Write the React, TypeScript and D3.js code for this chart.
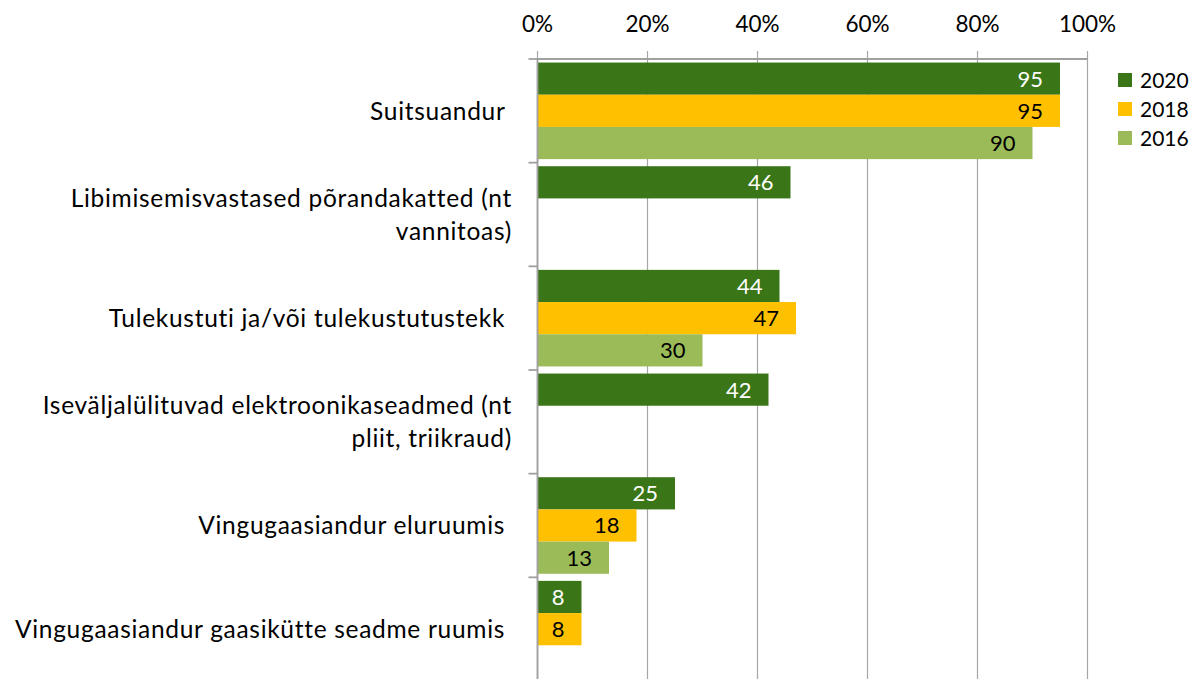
import React from 'react';
import * as d3 from 'd3';

// chart data
const categories = [
  'Suitsuandur',
  'Libimisemisvastased põrandakatted (nt vannitoas)',
  'Tulekustuti ja/või tulekustutustekk',
  'Iseväljalülituvad elektroonikaseadmed (nt pliit, triikraud)',
  'Vingugaasiandur eluruumis',
  'Vingugaasiandur gaasikütte seadme ruumis',
];
// how each category label wraps in the original
const categoryLines = [
  ['Suitsuandur '],
  ['Libimisemisvastased põrandakatted (nt', 'vannitoas)'],
  ['Tulekustuti ja/või tulekustutustekk '],
  ['Iseväljalülituvad elektroonikaseadmed (nt', 'pliit, triikraud)'],
  ['Vingugaasiandur eluruumis '],
  ['Vingugaasiandur gaasikütte seadme ruumis '],
];
const series = ['2020', '2018', '2016'];
const values2020 = [95, 46, 44, 42, 25, 8];
const values2018 = [95, null, 47, null, 18, 8];
const values2016 = [90, null, 30, null, 13, null];
const xTicks = [0, 20, 40, 60, 80, 100];

const colors = ['#3A7618', '#FFC000', '#9BBB59'];
const labelColors = ['#ffffff', '#000000', '#000000'];
const FONT = 'Lato, Carlito, Calibri, sans-serif';

export default function App() {
  const width = 1204;
  const height = 679;
  const plot = { left: 537.5, right: 1087.5, top: 59, bottom: 681 };

  const x = d3.scaleLinear().domain([0, 100]).range([plot.left, plot.right]);
  const y = d3.scaleBand<string>().domain(categories).range([plot.top, plot.bottom]).paddingInner(0);
  const inner = d3
    .scaleBand<string>()
    .domain(series)
    .range([0, y.bandwidth()])
    .paddingInner(0)
    .paddingOuter(0.11);

  const allValues = [values2020, values2018, values2016];

  return (
    <svg
      width={width}
      height={height}
      style={{ position: 'absolute', left: 0, top: 0, fontFamily: FONT }}
    >
      <rect width={width} height={height} fill="#fff" />

      {/* vertical gridlines */}
      {xTicks.map(t => (
        <line
          key={'g' + t}
          x1={x(t)}
          x2={x(t)}
          y1={plot.top - 8}
          y2={plot.bottom}
          stroke="#a6a6a6"
          strokeWidth={1.2}
        />
      ))}

      {/* top axis */}
      <line x1={plot.left} x2={plot.right} y1={plot.top} y2={plot.top} stroke="#a0a0a0" strokeWidth={1.8} />
      {xTicks.map(t => (
        <text key={'t' + t} x={x(t)} y={32} textAnchor="middle" fontSize={22.5} fill="#000">
          {t}%
        </text>
      ))}

      {/* bars */}
      {allValues.map((vals, si) =>
        vals.map((v, ci) => {
          if (v == null) return null;
          const y0 = (y(categories[ci]) as number) + (inner(series[si]) as number);
          return (
            <g key={si + '-' + ci}>
              <rect x={x(0)} y={y0} width={x(v) - x(0)} height={inner.bandwidth()} fill={colors[si]} />
              <text
                x={x(v) - 17}
                y={y0 + inner.bandwidth() / 2}
                dy="0.36em"
                textAnchor="end"
                fontSize={22}
                fill={labelColors[si]}
              >
                {v}
              </text>
            </g>
          );
        })
      )}

      {/* left axis */}
      <line x1={plot.left} x2={plot.left} y1={plot.top - 1} y2={plot.bottom} stroke="#a0a0a0" strokeWidth={1.8} />
      {categories.map((c, i) => (
        <line
          key={'lt' + i}
          x1={plot.left - 9}
          x2={plot.left}
          y1={y(c) as number}
          y2={y(c) as number}
          stroke="#a0a0a0"
          strokeWidth={1.8}
        />
      ))}

      {/* category labels */}
      {categories.map((c, i) => {
        const lines = categoryLines[i];
        const cy = (y(c) as number) + y.bandwidth() / 2;
        const lh = 33;
        return (
          <text
            key={'c' + i}
            x={512}
            textAnchor="end"
            fontSize={24.5}
            letterSpacing={0.7}
            fill="#000"
            style={{ whiteSpace: 'pre' }}
          >
            {lines.map((l, li) => (
              <tspan key={li} x={512} y={cy + (li - (lines.length - 1) / 2) * lh} dy="0.36em">
                {l}
              </tspan>
            ))}
          </text>
        );
      })}

      {/* legend */}
      {series.map((s, i) => (
        <g key={'l' + s} transform={`translate(1118, ${73 + i * 29})`}>
          <rect width={14} height={14} fill={colors[i]} />
          <text x={22} y={7} dy="0.36em" fontSize={21} fill="#000">
            {s}
          </text>
        </g>
      ))}
    </svg>
  );
}
